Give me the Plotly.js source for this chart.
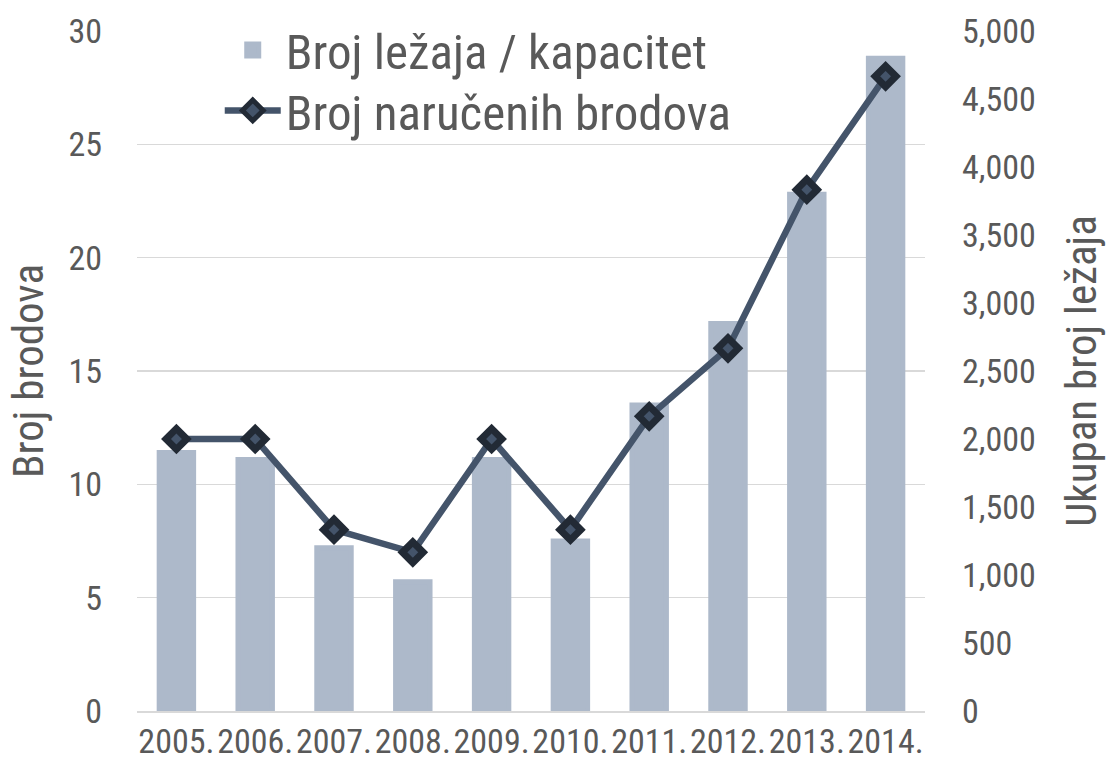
<!DOCTYPE html>
<html>
<head>
<meta charset="utf-8">
<script src="https://cdn.plot.ly/plotly-3.0.1.min.js"></script>
<style>html,body{margin:0;padding:0;background:#fff;}#chart{width:1112px;height:764px;}</style>
</head>
<body>
<div id="chart"></div>
<script>
const years = ['2005.', '2006.', '2007.', '2008.', '2009.', '2010.', '2011.', '2012.', '2013.', '2014.'];
const capacity = [1900, 1850, 1200, 950, 1850, 1250, 2250, 2850, 3800, 4800];
const ships = [12, 12, 8, 7, 12, 8, 13, 16, 23, 28];
const leftTicks = [0, 5, 10, 15, 20, 25, 30];
const rightTicks = [0, 500, 1000, 1500, 2000, 2500, 3000, 3500, 4000, 4500, 5000];

const fam = '"Roboto Condensed", "DejaVu Sans Condensed", sans-serif';
const grey = '#595959';

const traces = [
  {
    type: 'bar', x: years, y: capacity, xaxis: 'x', yaxis: 'y', name: 'Broj ležaja / kapacitet',
    marker: {color: '#ADB9CA', line: {color: '#ADB9CA', width: 5}}, legend: 'legend'
  },
  {
    type: 'scatter', mode: 'lines+markers', x: years, y: ships, xaxis: 'x', yaxis: 'y2', name: 'Broj naručenih brodova',
    line: {color: '#44546A', width: 6.5},
    marker: {symbol: 'diamond', size: 16, color: '#44546A', line: {color: '#222A35', width: 7}},
    legend: 'legend2', cliponaxis: false
  }
];

const layout = {
  width: 1112, height: 764,
  margin: {l: 137, r: 187, t: 24, b: 53},
  paper_bgcolor: '#fff', plot_bgcolor: '#fff',
  bargap: 0.563,
  font: {family: fam, color: grey},
  xaxis: {
    type: 'category', range: [-0.5, years.length - 0.5], autorange: false,
    showgrid: false, showline: true, linecolor: '#D9D9D9', linewidth: 1.5,
    tickfont: {family: fam, size: 34, color: grey}, ticks: '', tickangle: 0, fixedrange: true,
    automargin: false
  },
  yaxis: {
    range: [0, 5000], tickvals: rightTicks, tickformat: ',', side: 'right', automargin: false,
    showgrid: false, zeroline: false, showline: false, ticks: '', ticklabelstandoff: 36,
    tickfont: {family: fam, size: 34, color: grey},
    title: {text: 'Ukupan broj ležaja', font: {family: fam, size: 43, color: grey}, standoff: 31}
  },
  yaxis2: {
    range: [0, 30], tickvals: leftTicks, overlaying: 'y', side: 'left', automargin: false,
    showgrid: true, gridcolor: '#D9D9D9', gridwidth: 1.5,
    zeroline: false, showline: false, ticks: '', ticklabelstandoff: 34,
    tickfont: {family: fam, size: 34, color: grey},
    title: {text: 'Broj brodova', font: {family: fam, size: 43, color: grey}, standoff: 11}
  },
  legend: {
    x: 0.105, y: 0.972, xanchor: 'left', yanchor: 'middle', bgcolor: 'rgba(0,0,0,0)',
    font: {family: fam, size: 49, color: grey}, itemwidth: 56
  },
  legend2: {
    x: 0.105, y: 0.883, xanchor: 'left', yanchor: 'middle', bgcolor: 'rgba(0,0,0,0)',
    font: {family: fam, size: 49, color: grey}, itemwidth: 56
  },
  showlegend: true
};

Plotly.newPlot('chart', traces, layout, {displayModeBar: false, staticPlot: true});
</script>
</body>
</html>
